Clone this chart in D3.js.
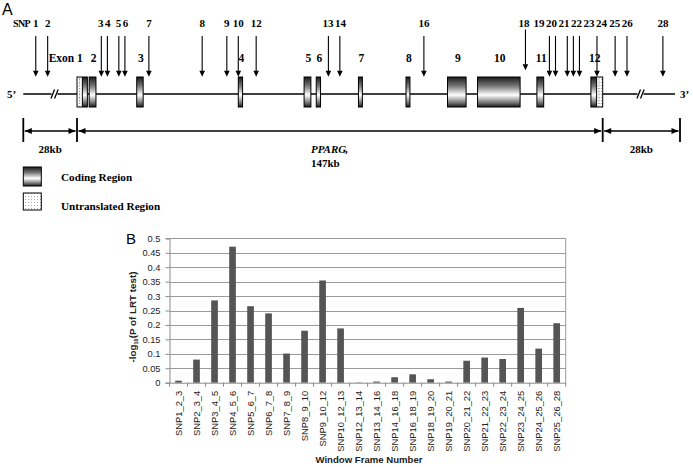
<!DOCTYPE html>
<html><head><meta charset="utf-8">
<script src="https://cdn.jsdelivr.net/npm/d3@7/dist/d3.min.js"></script>
<style>body{margin:0;background:#fff} svg{display:block}</style>
</head><body>
<script>
// ================= Panel A data (kb relative to PPARG start) =================
const snpIds   = ["1","2","3","4","5","6","7","8","9","10","12","13","14","16","18","19","20","21","22","23","24","25","26","28"];
const snpKb    = [-21.5,-15.3,6.8,8.5,11.7,13.4,20.1,35.0,41.9,45.1,50.1,70.3,73.5,97.0,125.4,132.1,133.8,137.1,138.8,140.5,145.4,151.5,155.8,168.8];
const raisedSnps = ["18"];
const exonNames   = ["1","2","3","4","5","6","7","8","9","10","11","12"];
const exonStartKb = [0.0,3.4,16.7,45.1,63.5,66.9,78.7,92.0,103.6,112.0,128.6,143.7];
const exonEndKb   = [2.9,5.3,18.5,46.3,65.4,68.1,79.8,93.1,108.8,123.9,130.5,147.0];
const utrStartKb  = [0.0,145.3];
const utrEndKb    = [1.5,147.0];
const flankKb     = 28;
const geneKb      = 147;
const breaksKb    = [-11.7,160.7];
const lineEndKb   = 173.2;

// ================= Panel B data =================
const windows = ["SNP1_2_3","SNP2_3_4","SNP3_4_5","SNP4_5_6","SNP5_6_7","SNP6_7_8","SNP7_8_9","SNP8_9_10","SNP9_10_12","SNP10_12_13","SNP12_13_14","SNP13_14_16","SNP14_16_18","SNP16_18_19","SNP18_19_20","SNP19_20_21","SNP20_21_22","SNP21_22_23","SNP22_23_24","SNP23_24_25","SNP24_25_26","SNP25_26_28"];
const negLogP = [0.007,0.080,0.285,0.471,0.265,0.240,0.101,0.180,0.354,0.188,0.001,0.004,0.019,0.029,0.012,0.004,0.076,0.087,0.082,0.259,0.118,0.206];
const yTicks  = [0,0.05,0.1,0.15,0.2,0.25,0.3,0.35,0.4,0.45,0.5];

const W = 693, H = 467;
const svg = d3.select("body").append("svg").attr("width", W).attr("height", H);
const defs = svg.append("defs");
const grad = defs.append("linearGradient").attr("id","cyl").attr("x1",0).attr("y1",0).attr("x2",0).attr("y2",1);
[[0,"#1a1a1a"],[0.3,"#777"],[0.6,"#ffffff"],[0.85,"#777"],[1,"#1a1a1a"]]
  .forEach(s => grad.append("stop").attr("offset",s[0]).attr("stop-color",s[1]));
const pat = defs.append("pattern").attr("id","dots").attr("width",3).attr("height",3).attr("patternUnits","userSpaceOnUse");
pat.append("rect").attr("width",3).attr("height",3).attr("fill","#fff");
pat.append("rect").attr("x",1).attr("y",1).attr("width",1).attr("height",1).attr("fill","#aaa");

const serif = "'Liberation Serif','Times New Roman',serif";
const sans = "'Liberation Sans',Arial,sans-serif";

// ---------- Panel A ----------
svg.append("text").attr("x",2).attr("y",15).attr("font-family",sans).attr("font-size",16).text("A");

const gx = d3.scaleLinear().domain([-flankKb, 0, geneKb, geneKb + flankKb]).range([23.3, 77, 602.7, 680]);
const lineY = 94, exTop = 77, exBot = 107;
const gA = svg.append("g");

gA.append("line").attr("x1",gx(-flankKb)).attr("x2",gx(lineEndKb)).attr("y1",lineY).attr("y2",lineY)
  .attr("stroke","#000").attr("stroke-width",1.5);
breaksKb.forEach(k => {
  const x = gx(k);
  gA.append("rect").attr("x",x-3).attr("y",lineY-3).attr("width",6).attr("height",6).attr("fill","#fff");
  [-1.8,1.8].forEach(o => gA.append("line").attr("x1",x+o-1.8).attr("y1",lineY+4.5).attr("x2",x+o+1.8).attr("y2",lineY-4.5)
     .attr("stroke","#000").attr("stroke-width",1.3));
});
gA.append("text").attr("x",7).attr("y",lineY+4).attr("font-family",serif).attr("font-weight","bold").attr("font-size",11).text("5’");
gA.append("text").attr("x",680).attr("y",lineY+4).attr("font-family",serif).attr("font-weight","bold").attr("font-size",11).text("3’");

exonNames.forEach((n,i) => {
  gA.append("rect").attr("x",gx(exonStartKb[i])).attr("y",exTop).attr("width",gx(exonEndKb[i])-gx(exonStartKb[i]))
    .attr("height",exBot-exTop).attr("fill","url(#cyl)").attr("stroke","none");
});
utrStartKb.forEach((s,i) => {
  const x0 = gx(s), x1 = gx(utrEndKb[i]);
  gA.append("rect").attr("x",x0).attr("y",exTop).attr("width",x1-x0).attr("height",exBot-exTop).attr("fill","url(#dots)");
  gA.append("line").attr("x1",(x0+x1)/2).attr("x2",(x0+x1)/2).attr("y1",exTop+1).attr("y2",exBot-1)
    .attr("stroke","#888").attr("stroke-dasharray","1,1.5").attr("stroke-width",0.8);
});
exonNames.forEach((n,i) => {
  gA.append("rect").attr("x",gx(exonStartKb[i])).attr("y",exTop).attr("width",gx(exonEndKb[i])-gx(exonStartKb[i]))
    .attr("height",exBot-exTop).attr("fill","none").attr("stroke","#000").attr("stroke-width",1);
});
utrStartKb.forEach((s,i) => {
  const xb = i === 0 ? gx(utrEndKb[i]) : gx(s);
  gA.append("line").attr("x1",xb).attr("x2",xb).attr("y1",exTop).attr("y2",exBot).attr("stroke","#000").attr("stroke-width",1);
});
exonNames.forEach((n,i) => {
  let cs = exonStartKb[i], ce = exonEndKb[i];
  utrStartKb.forEach((u,j) => {
    if (u <= cs + 0.01 && utrEndKb[j] > cs) cs = utrEndKb[j];
    if (utrEndKb[j] >= ce - 0.01 && u < ce) ce = u;
  });
  const t = gA.append("text").attr("y",62).attr("font-family",serif).attr("font-weight","bold").attr("font-size",11.5);
  if (i === 0) t.attr("x",gx(cs)+0.5).attr("text-anchor","end").text("Exon " + n);
  else t.attr("x",(gx(cs)+gx(ce))/2 + 1).attr("text-anchor","middle").text(n);
});

snpIds.forEach((id,i) => {
  const x = gx(snpKb[i]);
  const up = raisedSnps.includes(id) ? 6.5 : 0;
  const y0 = 36 - up, tip = 76.7 - up;
  gA.append("line").attr("x1",x).attr("x2",x).attr("y1",y0).attr("y2",tip-5).attr("stroke","#000").attr("stroke-width",1.1);
  gA.append("path").attr("d",`M${x-2.8},${tip-6}L${x+2.8},${tip-6}L${x},${tip}Z`).attr("fill","#000");
});
const lab = gA.append("g").attr("font-family",serif).attr("font-weight","bold").attr("font-size",11).attr("text-anchor","middle");
const items = snpIds.map((id,i) => {
  const t = lab.append("text").attr("y",27.3).text(id);
  return {t, want: gx(snpKb[i]) + (raisedSnps.includes(id) ? -1.5 : 0), w: t.node().getComputedTextLength()};
});
const pad = 1.5;
let clusters = items.map(d => ({list:[d]}));
function layout(c){ const tot = d3.sum(c.list,d=>d.w) + pad*(c.list.length-1); const ctr = d3.mean(c.list,d=>d.want);
  c.left = ctr - tot/2; c.right = ctr + tot/2; }
clusters.forEach(layout);
let merged = true;
while (merged) {
  merged = false;
  for (let i = 0; i < clusters.length-1; i++) {
    if (clusters[i].right + pad > clusters[i+1].left) {
      clusters[i].list = clusters[i].list.concat(clusters[i+1].list);
      clusters.splice(i+1,1); layout(clusters[i]); merged = true; break;
    }
  }
}
clusters.forEach(c => { let x = c.left; c.list.forEach(d => { d.t.attr("x", x + d.w/2); x += d.w + pad; }); });
gA.append("text").attr("x",items[0].t.attr("x") - items[0].w/2 - 3).attr("y",27.3).attr("text-anchor","end")
  .attr("font-family",serif).attr("font-weight","bold").attr("font-size",10).attr("letter-spacing",-0.6).text("SNP");

const dimY = 131;
const dims = [[-flankKb,0],[0,geneKb],[geneKb,geneKb+flankKb]];
dims.forEach(([a,b]) => {
  const xa = gx(a)+1.5, xb = gx(b)-1.5;
  gA.append("line").attr("x1",xa).attr("x2",xb).attr("y1",dimY).attr("y2",dimY).attr("stroke","#000").attr("stroke-width",1.3);
  gA.append("path").attr("d",`M${xa},${dimY}L${xa+7},${dimY-3}L${xa+7},${dimY+3}Z`).attr("fill","#000");
  gA.append("path").attr("d",`M${xb},${dimY}L${xb-7},${dimY-3}L${xb-7},${dimY+3}Z`).attr("fill","#000");
});
[-flankKb,0,geneKb,geneKb+flankKb].forEach(k => gA.append("line").attr("x1",gx(k)).attr("x2",gx(k)).attr("y1",118).attr("y2",142)
  .attr("stroke","#000").attr("stroke-width",1.8));
const dl = gA.append("g").attr("font-family",serif).attr("font-weight","bold").attr("font-size",11);
dl.append("text").attr("x",(gx(-flankKb)+gx(0))/2).attr("y",153).attr("text-anchor","middle").text(flankKb+"kb");
dl.append("text").attr("x",(gx(geneKb)+gx(geneKb+flankKb))/2).attr("y",153).attr("text-anchor","middle").text(flankKb+"kb");
dl.append("text").attr("x",311).attr("y",153).attr("font-style","italic").text("PPARG");
dl.append("text").attr("x",345).attr("y",153).text(",");
dl.append("text").attr("x",311).attr("y",166.5).text(geneKb+"kb");

gA.append("rect").attr("x",23.3).attr("y",167).attr("width",18).attr("height",19).attr("fill","url(#cyl)").attr("stroke","#000").attr("stroke-width",1);
gA.append("rect").attr("x",23.3).attr("y",193).attr("width",18).attr("height",17).attr("fill","url(#dots)").attr("stroke","#000").attr("stroke-width",1);
dl.append("text").attr("x",61).attr("y",181).attr("font-size",11.2).text("Coding Region");
dl.append("text").attr("x",61).attr("y",210).attr("font-size",11.2).text("Untranslated Region");

// ---------- Panel B ----------
svg.append("text").attr("x",126).attr("y",243.5).attr("font-family",sans).attr("font-size",15).text("B");
const x = d3.scaleBand().domain(windows).range([169.5, 565.7]).paddingInner(0.63).paddingOuter(0.315);
const y = d3.scaleLinear().domain([0,0.5]).range([382.7, 238.3]);
const gB = svg.append("g");
gB.selectAll("line.grid").data(yTicks.filter(d=>d>0)).join("line").attr("class","grid")
  .attr("x1",169.5).attr("x2",565.7).attr("y1",d=>Math.round(y(d))+0.5).attr("y2",d=>Math.round(y(d))+0.5)
  .attr("stroke","#9a9a9a").attr("stroke-width",1);
gB.append("line").attr("x1",565.7).attr("x2",565.7).attr("y1",y(0.5)).attr("y2",y(0)).attr("stroke","#9a9a9a");
gB.selectAll("rect.bar").data(windows).join("rect").attr("class","bar")
  .attr("x",d=>x(d)).attr("width",x.bandwidth())
  .attr("y",(d,i)=>y(negLogP[i])).attr("height",(d,i)=>y(0)-y(negLogP[i])).attr("fill","#555");
const yAx = gB.append("g").attr("transform","translate(169.5,0)")
  .call(d3.axisLeft(y).tickValues(yTicks).tickFormat(d=>String(+d.toFixed(2))).tickSize(4).tickPadding(5));
yAx.selectAll("path,line").attr("stroke","#8a8a8a");
yAx.selectAll("text").attr("font-family",sans).attr("font-size",9.3).attr("fill","#222");
const xAx = gB.append("g").attr("transform",`translate(0,${y(0)})`)
  .call(d3.axisBottom(x).tickSize(0).tickPadding(0));
xAx.select("path").attr("stroke","#8a8a8a");
xAx.selectAll("text").attr("font-family",sans).attr("font-size",9.4).attr("fill","#222")
  .attr("transform","rotate(-90)").attr("text-anchor","end").attr("dy","0.35em").attr("x",-8).attr("y",0);
const edges = windows.map(d => x(d) - x.step()*x.paddingInner()/2).concat([565.7]);
gB.selectAll("line.xt").data(edges).join("line").attr("class","xt")
  .attr("x1",d=>d).attr("x2",d=>d).attr("y1",y(0)).attr("y2",y(0)+4).attr("stroke","#8a8a8a");
const yt = gB.append("text").attr("transform","translate(136,317) rotate(-90)").attr("text-anchor","middle")
  .attr("font-family",sans).attr("font-weight","bold").attr("font-size",9.8).attr("fill","#222");
yt.append("tspan").text("-log");
yt.append("tspan").attr("font-size",5.5).attr("dy",2).text("10");
yt.append("tspan").attr("dy",-2).text("(P of LRT test)");
gB.append("text").attr("x",369).attr("y",463).attr("text-anchor","middle").attr("font-family",sans)
  .attr("font-weight","bold").attr("font-size",9.6).attr("fill","#222").text("Window Frame Number");
</script>
</body></html>
